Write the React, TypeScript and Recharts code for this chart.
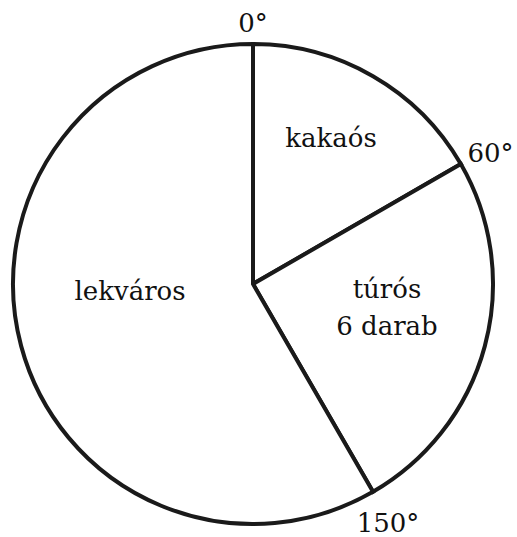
import React from "react";
import { PieChart, Pie, Cell } from "recharts";

const categories = ["kakaós", "túrós", "lekváros"];
const subLabels = ["", "6 darab", ""];
const values = [60, 90, 210];
const boundaryLabels = ["0°", "60°", "150°"];

const data = categories.map((name, i) => ({ name, value: values[i], sub: subLabels[i], boundary: boundaryLabels[i] }));

// layout: polar placement (clockwise degrees from top, distance in px) of text baselines
const namePlacement = [
  { angle: 29.7, dist: 157.6 },
  { angle: 96.0, dist: 134.7 },
  { angle: 262.6, dist: 124 },
];
const boundaryPlacement = [
  { angle: 0, dist: 252 },
  { angle: 62.8, dist: 267 },
  { angle: 151.4, dist: 282 },
];

const FONT = "'DejaVu Serif', serif";
const FS = 26;
const textStyle: React.CSSProperties = { fontFamily: FONT, fontSize: FS };

const polar = (cx: number, cy: number, angle: number, dist: number) => {
  const rad = (angle * Math.PI) / 180;
  return { x: cx + dist * Math.sin(rad), y: cy - dist * Math.cos(rad) };
};

const renderLabel = (props: any) => {
  const { cx, cy, index } = props;
  const d = data[index];
  const np = namePlacement[index];
  const bp = boundaryPlacement[index];
  const p = polar(cx, cy, np.angle, np.dist);
  const b = polar(cx, cy, bp.angle, bp.dist);
  return (
    <g key={`lbl-${index}`}>
      <text x={p.x} y={p.y} textAnchor="middle" fontFamily={FONT} style={textStyle} fill="#111">
        {d.name}
        {d.sub ? (
          <tspan x={p.x} dy={37}>
            {d.sub}
          </tspan>
        ) : null}
      </text>
      <text x={b.x} y={b.y} textAnchor="middle" fontFamily={FONT} style={textStyle} fill="#111">
        {d.boundary}
      </text>
    </g>
  );
};

export default function App() {
  return (
    <div style={{ position: "absolute", left: 0, top: 0, width: 517, height: 537, background: "#fff" }}>
      <PieChart width={517} height={537} margin={{ top: 0, right: 0, bottom: 0, left: 0 }}>
        <Pie
          data={data}
          dataKey="value"
          nameKey="name"
          cx={253}
          cy={284}
          innerRadius={0}
          outerRadius={240}
          startAngle={90}
          endAngle={-270}
          stroke="#1a1a1a"
          strokeWidth={4}
          label={renderLabel}
          labelLine={false}
          isAnimationActive={false}
        >
          {data.map((d) => (
            <Cell key={d.name} fill="#ffffff" stroke="#1a1a1a" strokeWidth={4} />
          ))}
        </Pie>
      </PieChart>
    </div>
  );
}
